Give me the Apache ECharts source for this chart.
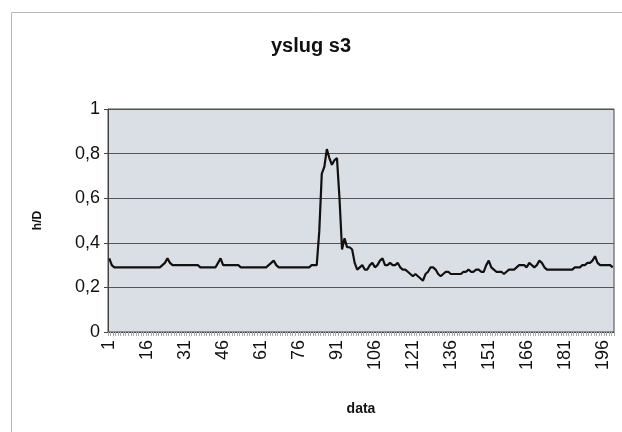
<!DOCTYPE html>
<html><head><meta charset="utf-8">
<script src="https://cdn.jsdelivr.net/npm/echarts@6/dist/echarts.min.js"></script>
<style>html,body{margin:0;padding:0;background:#fff}#c{width:622px;height:432px}</style>
</head><body><div id="c"></div>
<script>
const titleText = "yslug s3";
const xName = "data";
const yName = "h/D";
const yTicks = [0, 0.2, 0.4, 0.6, 0.8, 1];
const categories = Array.from({length: 200}, (_, i) => String(i + 1));
const values = [
 0.33,0.30,0.29,0.29,0.29,0.29,0.29,0.29,0.29,0.29,
 0.29,0.29,0.29,0.29,0.29,0.29,0.29,0.29,0.29,0.29,
 0.29,0.30,0.31,0.33,0.31,0.30,0.30,0.30,0.30,0.30,
 0.30,0.30,0.30,0.30,0.30,0.30,0.29,0.29,0.29,0.29,
 0.29,0.29,0.29,0.31,0.33,0.30,0.30,0.30,0.30,0.30,
 0.30,0.30,0.29,0.29,0.29,0.29,0.29,0.29,0.29,0.29,
 0.29,0.29,0.29,0.30,0.31,0.32,0.30,0.29,0.29,0.29,
 0.29,0.29,0.29,0.29,0.29,0.29,0.29,0.29,0.29,0.29,
 0.30,0.30,0.30,0.45,0.71,0.74,0.82,0.78,0.75,0.77,
 0.78,0.60,0.37,0.42,0.38,0.38,0.37,0.31,0.28,0.29,
 0.30,0.28,0.28,0.30,0.31,0.29,0.30,0.32,0.33,0.30,
 0.30,0.31,0.30,0.30,0.31,0.29,0.28,0.28,0.27,0.26,
 0.25,0.26,0.25,0.24,0.23,0.26,0.27,0.29,0.29,0.28,
 0.26,0.25,0.26,0.27,0.27,0.26,0.26,0.26,0.26,0.26,
 0.27,0.27,0.28,0.27,0.27,0.28,0.28,0.27,0.27,0.30,
 0.32,0.29,0.28,0.27,0.27,0.27,0.26,0.27,0.28,0.28,
 0.28,0.29,0.30,0.30,0.30,0.29,0.31,0.30,0.29,0.30,
 0.32,0.31,0.29,0.28,0.28,0.28,0.28,0.28,0.28,0.28,
 0.28,0.28,0.28,0.28,0.29,0.29,0.29,0.30,0.30,0.31,
 0.31,0.32,0.34,0.31,0.30,0.30,0.30,0.30,0.30,0.29
];
const chart = echarts.init(document.getElementById('c'), null, {renderer: 'canvas'});
const FONT = "'Liberation Sans', Arial, sans-serif";
chart.setOption({
  animation: false,
  backgroundColor: '#ffffff',
  graphic: [{
    type: 'rect', left: 9, top: 10, shape: {width: 640, height: 440},
    style: {fill: 'none', stroke: '#b8b8b8', lineWidth: 1}, silent: true, z: -1
  }],
  title: {
    text: titleText, left: 'center', top: 31,
    textStyle: {fontFamily: FONT, fontWeight: 'bold', fontSize: 20, color: '#111'}
  },
  grid: {left: 108, right: 8, top: 109, bottom: 100, show: true,
         backgroundColor: '#dadee5', borderColor: '#444', borderWidth: 1},
  xAxis: {
    type: 'category', data: categories, boundaryGap: true,
    name: xName, nameLocation: 'middle', nameGap: 70,
    nameTextStyle: {fontFamily: FONT, fontWeight: 'bold', fontSize: 14, color: '#111'},
    axisLine: {lineStyle: {color: '#444', width: 1}},
    axisTick: {show: true, interval: 0, length: 4, lineStyle: {color: '#aaa'}},
    axisLabel: {interval: 14, rotate: 90, fontFamily: FONT, fontSize: 18, color: '#111', margin: 8},
    splitLine: {show: false}
  },
  yAxis: {
    type: 'value', min: yTicks[0], max: yTicks[yTicks.length - 1], interval: 0.2,
    name: yName, nameLocation: 'middle', nameGap: 64, nameRotate: 90,
    nameTextStyle: {fontFamily: FONT, fontWeight: 'bold', fontSize: 12, color: '#111'},
    axisLine: {show: true, lineStyle: {color: '#444'}},
    axisTick: {show: true, length: 4, lineStyle: {color: '#444'}},
    axisLabel: {fontFamily: FONT, fontSize: 18, color: '#111', margin: 8,
      formatter: v => String(Math.round(v * 10) / 10).replace('.', ',')},
    splitLine: {show: true, lineStyle: {color: '#555', width: 1}}
  },
  series: [{
    type: 'line', data: values, showSymbol: false, symbol: 'none',
    lineStyle: {color: '#111', width: 2.2}
  }]
});
</script></body></html>
